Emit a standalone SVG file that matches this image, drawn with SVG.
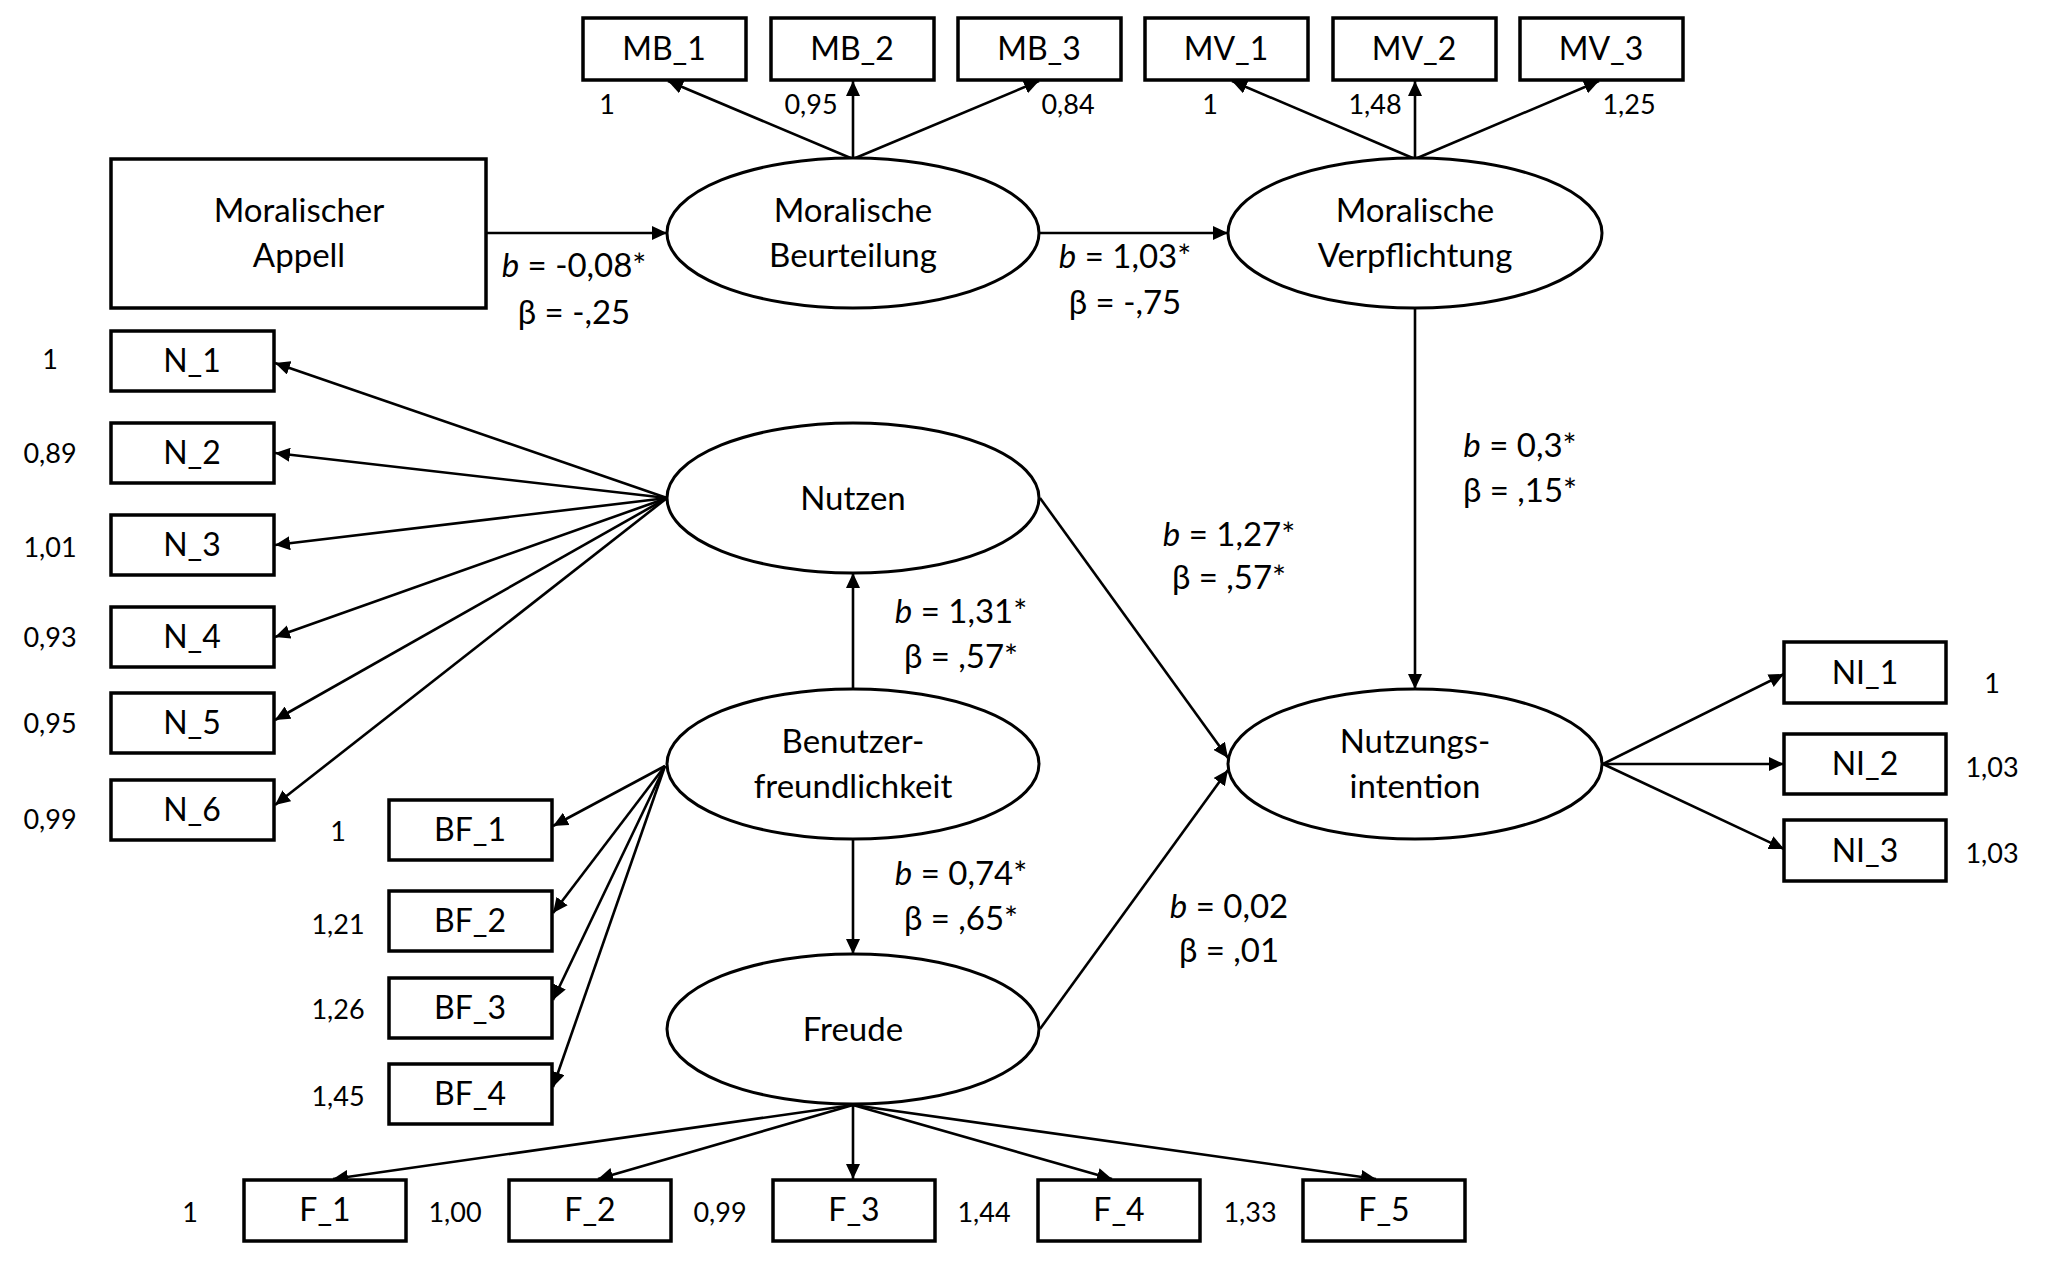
<svg xmlns="http://www.w3.org/2000/svg" width="2055" height="1268" viewBox="0 0 2055 1268">
<defs>
<marker id="ah" markerUnits="userSpaceOnUse" markerWidth="16" markerHeight="14" refX="15" refY="7" orient="auto">
<path d="M0,0 L15,7 L0,14 z" fill="#000"/>
</marker>
<style>
.box{fill:#fff;stroke:#000;stroke-width:3.5}
.ell{fill:#fff;stroke:#000;stroke-width:3}
.t{font-family:Lato,"Liberation Sans",sans-serif;font-size:33px;fill:#000;text-anchor:middle}
.b{font-family:Lato,"Liberation Sans",sans-serif;font-size:32px;fill:#000;text-anchor:middle}
.s{font-family:Lato,"Liberation Sans",sans-serif;font-size:27px;fill:#000;text-anchor:middle}
.c{font-family:Lato,"Liberation Sans",sans-serif;font-size:33px;fill:#000;text-anchor:middle}
.con line{stroke:#000;stroke-width:2.6;marker-end:url(#ah)}
</style>
</defs>
<rect width="2055" height="1268" fill="#fff"/>
<g id="connectors" class="con">
<line x1="853" y1="159" x2="668" y2="81"/>
<line x1="853" y1="159" x2="853" y2="81"/>
<line x1="853" y1="159" x2="1039" y2="81"/>
<line x1="1415" y1="159" x2="1232" y2="81"/>
<line x1="1415" y1="159" x2="1415" y2="81"/>
<line x1="1415" y1="159" x2="1599" y2="81"/>
<line x1="486" y1="233" x2="667" y2="233"/>
<line x1="1039" y1="233" x2="1228" y2="233"/>
<line x1="1415" y1="308" x2="1415" y2="689"/>
<line x1="853" y1="689" x2="853" y2="573"/>
<line x1="853" y1="839" x2="853" y2="954"/>
<line x1="1040" y1="498" x2="1228" y2="758"/>
<line x1="1040" y1="1029" x2="1228" y2="770"/>
<line x1="667" y1="498" x2="275" y2="363"/>
<line x1="667" y1="498" x2="275" y2="453"/>
<line x1="667" y1="498" x2="275" y2="545"/>
<line x1="667" y1="498" x2="275" y2="637"/>
<line x1="667" y1="498" x2="275" y2="720"/>
<line x1="667" y1="498" x2="275" y2="805"/>
<line x1="665" y1="766" x2="553" y2="826"/>
<line x1="665" y1="766" x2="553" y2="913"/>
<line x1="665" y1="766" x2="553" y2="1000"/>
<line x1="665" y1="766" x2="553" y2="1087"/>
<line x1="853" y1="1105" x2="333" y2="1179"/>
<line x1="853" y1="1105" x2="598" y2="1179"/>
<line x1="853" y1="1105" x2="853" y2="1179"/>
<line x1="853" y1="1105" x2="1112" y2="1179"/>
<line x1="853" y1="1105" x2="1376" y2="1179"/>
<line x1="1603" y1="764" x2="1784" y2="674"/>
<line x1="1603" y1="764" x2="1784" y2="764"/>
<line x1="1603" y1="764" x2="1784" y2="849"/>
</g>
<g id="MB_1"><rect class="box" x="583" y="18" width="163" height="62"/><text class="b" x="664" y="60">MB_1</text></g>
<g id="MB_2"><rect class="box" x="771" y="18" width="163" height="62"/><text class="b" x="852" y="60">MB_2</text></g>
<g id="MB_3"><rect class="box" x="958" y="18" width="163" height="62"/><text class="b" x="1039" y="60">MB_3</text></g>
<g id="MV_1"><rect class="box" x="1145" y="18" width="163" height="62"/><text class="b" x="1226" y="60">MV_1</text></g>
<g id="MV_2"><rect class="box" x="1333" y="18" width="163" height="62"/><text class="b" x="1414" y="60">MV_2</text></g>
<g id="MV_3"><rect class="box" x="1520" y="18" width="163" height="62"/><text class="b" x="1601" y="60">MV_3</text></g>
<g id="loadings_top">
<text class="s" x="607" y="114">1</text>
<text class="s" x="811" y="114">0,95</text>
<text class="s" x="1068" y="114">0,84</text>
<text class="s" x="1210" y="114">1</text>
<text class="s" x="1375" y="114">1,48</text>
<text class="s" x="1629" y="114">1,25</text>
</g>
<g id="Moralischer_Appell"><rect class="box" x="111" y="159" width="375" height="149"/><text class="t" x="299" y="222">Moralischer</text><text class="t" x="299" y="267">Appell</text></g>
<g id="Moralische_Beurteilung"><ellipse class="ell" cx="853" cy="233" rx="186" ry="75"/><text class="t" x="853" y="222">Moralische</text><text class="t" x="853" y="267">Beurteilung</text></g>
<g id="Moralische_Verpflichtung"><ellipse class="ell" cx="1415" cy="233" rx="187" ry="75"/><text class="t" x="1415" y="222">Moralische</text><text class="t" x="1415" y="267">Verpflichtung</text></g>
<g id="Nutzen"><ellipse class="ell" cx="853" cy="498" rx="186" ry="75"/><text class="t" x="853" y="510">Nutzen</text></g>
<g id="Benutzerfreundlichkeit"><ellipse class="ell" cx="853" cy="764" rx="186" ry="75"/><text class="t" x="853" y="753">Benutzer-</text><text class="t" x="853" y="798">freundlichkeit</text></g>
<g id="Freude"><ellipse class="ell" cx="853" cy="1029" rx="186" ry="75"/><text class="t" x="853" y="1041">Freude</text></g>
<g id="Nutzungsintention"><ellipse class="ell" cx="1415" cy="764" rx="187" ry="75"/><text class="t" x="1415" y="753">Nutzungs-</text><text class="t" x="1415" y="798">intention</text></g>
<g id="N_1"><rect class="box" x="111" y="331" width="163" height="60"/><text class="b" x="192" y="372">N_1</text></g>
<g id="N_2"><rect class="box" x="111" y="423" width="163" height="60"/><text class="b" x="192" y="464">N_2</text></g>
<g id="N_3"><rect class="box" x="111" y="515" width="163" height="60"/><text class="b" x="192" y="556">N_3</text></g>
<g id="N_4"><rect class="box" x="111" y="607" width="163" height="60"/><text class="b" x="192" y="648">N_4</text></g>
<g id="N_5"><rect class="box" x="111" y="693" width="163" height="60"/><text class="b" x="192" y="734">N_5</text></g>
<g id="N_6"><rect class="box" x="111" y="780" width="163" height="60"/><text class="b" x="192" y="821">N_6</text></g>
<g id="loadings_N">
<text class="s" x="50" y="369">1</text>
<text class="s" x="50" y="463">0,89</text>
<text class="s" x="50" y="557">1,01</text>
<text class="s" x="50" y="647">0,93</text>
<text class="s" x="50" y="733">0,95</text>
<text class="s" x="50" y="829">0,99</text>
</g>
<g id="BF_1"><rect class="box" x="389" y="800" width="163" height="60"/><text class="b" x="470" y="841">BF_1</text></g>
<g id="BF_2"><rect class="box" x="389" y="891" width="163" height="60"/><text class="b" x="470" y="932">BF_2</text></g>
<g id="BF_3"><rect class="box" x="389" y="978" width="163" height="60"/><text class="b" x="470" y="1019">BF_3</text></g>
<g id="BF_4"><rect class="box" x="389" y="1064" width="163" height="60"/><text class="b" x="470" y="1105">BF_4</text></g>
<g id="loadings_BF">
<text class="s" x="338" y="841">1</text>
<text class="s" x="338" y="934">1,21</text>
<text class="s" x="338" y="1019">1,26</text>
<text class="s" x="338" y="1106">1,45</text>
</g>
<g id="F_1"><rect class="box" x="244" y="1180" width="162" height="61"/><text class="b" x="325" y="1221">F_1</text></g>
<g id="F_2"><rect class="box" x="509" y="1180" width="162" height="61"/><text class="b" x="590" y="1221">F_2</text></g>
<g id="F_3"><rect class="box" x="773" y="1180" width="162" height="61"/><text class="b" x="854" y="1221">F_3</text></g>
<g id="F_4"><rect class="box" x="1038" y="1180" width="162" height="61"/><text class="b" x="1119" y="1221">F_4</text></g>
<g id="F_5"><rect class="box" x="1303" y="1180" width="162" height="61"/><text class="b" x="1384" y="1221">F_5</text></g>
<g id="loadings_F">
<text class="s" x="190" y="1222">1</text>
<text class="s" x="455" y="1222">1,00</text>
<text class="s" x="720" y="1222">0,99</text>
<text class="s" x="984" y="1222">1,44</text>
<text class="s" x="1250" y="1222">1,33</text>
</g>
<g id="NI_1"><rect class="box" x="1784" y="642" width="162" height="61"/><text class="b" x="1865" y="684">NI_1</text></g>
<g id="NI_2"><rect class="box" x="1784" y="734" width="162" height="60"/><text class="b" x="1865" y="775">NI_2</text></g>
<g id="NI_3"><rect class="box" x="1784" y="820" width="162" height="61"/><text class="b" x="1865" y="862">NI_3</text></g>
<g id="loadings_NI">
<text class="s" x="1992" y="693">1</text>
<text class="s" x="1992" y="777">1,03</text>
<text class="s" x="1992" y="863">1,03</text>
</g>
<g id="coefficients">
<text class="c" x="574" y="277"><tspan font-style="italic">b</tspan> = -0,08*</text>
<text class="c" x="574" y="324">β = -,25</text>
<text class="c" x="1125" y="268"><tspan font-style="italic">b</tspan> = 1,03*</text>
<text class="c" x="1125" y="314">β = -,75</text>
<text class="c" x="1520" y="457"><tspan font-style="italic">b</tspan> = 0,3*</text>
<text class="c" x="1520" y="502">β = ,15*</text>
<text class="c" x="1229" y="546"><tspan font-style="italic">b</tspan> = 1,27*</text>
<text class="c" x="1229" y="589">β = ,57*</text>
<text class="c" x="961" y="623"><tspan font-style="italic">b</tspan> = 1,31*</text>
<text class="c" x="961" y="668">β = ,57*</text>
<text class="c" x="961" y="885"><tspan font-style="italic">b</tspan> = 0,74*</text>
<text class="c" x="961" y="930">β = ,65*</text>
<text class="c" x="1229" y="918"><tspan font-style="italic">b</tspan> = 0,02</text>
<text class="c" x="1229" y="962">β = ,01</text>
</g>
</svg>
